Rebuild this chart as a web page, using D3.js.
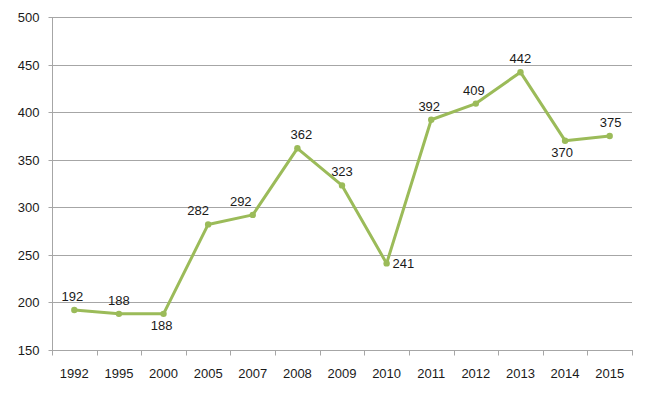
<!DOCTYPE html>
<html><head><meta charset="utf-8">
<script src="https://cdn.jsdelivr.net/npm/d3@7"></script>
<style>body{margin:0;background:#fff}svg{display:block}text{font-family:"Liberation Sans",Arial,sans-serif;font-size:13px;fill:#1a1a1a}</style>
</head><body><svg id="c" width="650" height="398"></svg>
<script>
const years = ["1992","1995","2000","2005","2007","2008","2009","2010","2011","2012","2013","2014","2015"];
const values = [192,188,188,282,292,362,323,241,392,409,442,370,375];
const yTicks = [150,200,250,300,350,400,450,500];
// label placement: a=above, b=below, r=right; dx offset
const labelPos = ["a","a","b","a","a","a","a","r","a","a","a","b","a"];
const labelDx = [-2,0,-2,-10,-12,4,0,0,-2,-2,0,-3,1];

const svg = d3.select("#c");
const L=52, R=632, T=17, B=350;
const x = d3.scaleBand().domain(years).range([L,R]);
const y = d3.scaleLinear().domain([150,500]).range([B,T]);
const grid="#a6a6a6";

svg.append("g").selectAll("line").data(yTicks.filter(d=>d>150)).join("line")
  .attr("x1",L).attr("x2",R).attr("y1",d=>Math.round(y(d))+0.5).attr("y2",d=>Math.round(y(d))+0.5)
  .attr("stroke",grid).attr("stroke-width",1);

const ya = svg.append("g").attr("transform",`translate(${L+0.5},0)`)
  .call(d3.axisLeft(y).tickValues(yTicks).tickSize(4).tickPadding(9));
ya.select(".domain").attr("stroke",grid).attr("d",`M0,${T}V${B+0.5}`);
ya.selectAll(".tick line").attr("stroke",grid);
ya.selectAll(".tick").attr("transform",d=>`translate(0,${Math.round(y(d))+0.5})`);
ya.selectAll("text").style("font-size","13px").attr("fill","#1a1a1a");

const xa = svg.append("g").attr("transform",`translate(0,${B+0.5})`);
xa.append("line").attr("x1",L).attr("x2",R+1).attr("stroke",grid);
const bounds = years.map(d=>x(d)).concat([R]);
xa.selectAll(".tk").data(bounds).join("line").attr("class","tk")
  .attr("x1",d=>Math.round(d)+0.5).attr("x2",d=>Math.round(d)+0.5).attr("y1",0).attr("y2",5).attr("stroke",grid);
xa.selectAll(".lb").data(years).join("text").attr("class","lb")
  .attr("x",d=>x(d)+x.bandwidth()/2).attr("y",27).attr("text-anchor","middle").text(d=>d);

const pts = years.map((d,i)=>({k:d,v:values[i],p:labelPos[i],dx:labelDx[i]}));
const cx = d=>x(d.k)+x.bandwidth()/2;
svg.append("path").datum(pts).attr("fill","none").attr("stroke","#9bbb59").attr("stroke-width",3)
  .attr("stroke-linejoin","round").attr("d",d3.line().x(cx).y(d=>y(d.v)));
svg.selectAll(".pt").data(pts).join("circle").attr("class","pt")
  .attr("cx",cx).attr("cy",d=>y(d.v)).attr("r",3.2).attr("fill","#9bbb59");
svg.selectAll(".vl").data(pts).join("text").attr("class","vl")
  .attr("x",d=>d.p==="r"?cx(d)+6:cx(d)+d.dx)
  .attr("y",d=>d.p==="a"?y(d.v)-9:d.p==="b"?y(d.v)+16:y(d.v)+5)
  .attr("text-anchor",d=>d.p==="r"?"start":"middle").text(d=>d.v);
</script></body></html>
